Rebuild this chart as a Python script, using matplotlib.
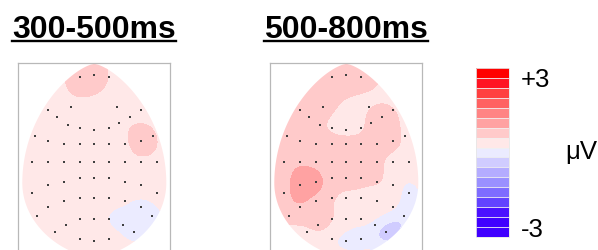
import matplotlib
matplotlib.use("Agg")
import matplotlib.pyplot as plt
import numpy as np
from matplotlib.colors import ListedColormap, BoundaryNorm
from matplotlib.cm import ScalarMappable
from matplotlib.patches import Polygon
from matplotlib.lines import Line2D

plt.rcParams['font.family'] = ['Liberation Sans', 'DejaVu Sans']

W, H = 598, 250

# electrode positions (pixels inside a map panel, origin at panel top-left)
elec_x = [61.7, 76, 90.4,
          30, 52.7, 99, 122.7,
          38.4, 111.7,
          49.7, 61.7, 76, 90.4, 100.7,
          17, 135,
          30, 45.7, 61.7, 76, 90.4, 106.4, 122.7,
          13.7, 30, 45.7, 61.7, 76, 90.4, 106.4, 122.7, 138.7,
          61.7, 76, 90.4, 45.7, 106.4, 30, 122.7,
          13.7, 138.7,
          45.7, 61.7, 76, 90.4, 106.4, 30, 122.7,
          18.7, 133.7,
          61.7, 76, 90.4, 47.7, 105,
          36.7, 115.7,
          61.7, 76, 90.4]
elec_y = [13.4, 11.7, 13.4,
          47, 43.7, 43.7, 47,
          54, 54,
          61.7, 64.7, 66.7, 64.7, 59.7,
          72.4, 72.4,
          77.4, 81, 81, 81, 81, 81, 77.4,
          99, 99, 99, 99, 99, 99, 99, 99, 99,
          115, 115, 115, 118.7, 118.7, 122, 122,
          129.4, 129.4,
          138, 134.7, 134.7, 134.7, 138, 143.4, 143.4,
          152.7, 152.7,
          156, 156, 156, 161.4, 161.4,
          168.7, 168.7,
          175.4, 177.4, 175.4]

# amplitude (uV) at each electrode
v_300_500 = [0.92, 0.92, 0.58,
             0.4, 0.5, 0.45, 0.4,
             0.4, 0.45,
             0.4, 0.4, 0.4, 0.4, 0.45,
             0.4, 0.68,
             0.4, 0.4, 0.4, 0.4, 0.4, 0.45, 0.95,
             0.4, 0.4, 0.4, 0.4, 0.4, 0.4, 0.4, 0.45, 0.4,
             0.4, 0.4, 0.4, 0.4, 0.4, 0.4, 0.4,
             0.4, 0.4,
             0.4, 0.4, 0.4, 0.35, 0.25, 0.4, 0.05,
             0.4, 0.05,
             0.4, 0.4, 0.2, 0.4, 0.05,
             0.4, 0.05,
             0.4, 0.4, 0.4]
v_500_800 = [0.9, 0.95, 0.9,
             0.8, 0.85, 0.55, 0.62,
             0.9, 0.9,
             0.75, 0.5, 0.4, 0.5, 0.8,
             0.8, 0.5,
             0.9, 0.9, 0.9, 0.85, 0.85, 0.8, 0.75,
             0.85, 0.95, 0.9, 0.85, 0.8, 0.75, 0.7, 0.45, 0.35,
             0.8, 0.75, 0.7, 1.15, 0.62, 1.2, 0.4,
             0.85, 0.1,
             0.85, 0.65, 0.5, 0.45, 0.4, 0.95, 0.25,
             0.75, -0.1,
             0.6, 0.4, 0.3, 0.7, 0.05,
             0.5, -0.35,
             0.3, 0.1, 0.05]
baselines = [0.4, 0.5]

titles = ['300-500ms', '500-800ms']
panel_left = [18.3, 270.3]
bounds = np.linspace(-3.4, 3.4, 18)
colors = ['#4000ff', '#4000ff', '#4a10ff', '#6242ff', '#7e6cff', '#9a90ff',
          '#b4acff', '#d0ccff', '#ebebff', '#ffe8e8', '#ffcaca', '#ffa2a2',
          '#ff8484', '#ff6262', '#ff4040', '#ff1423', '#ff0000']
cmap = ListedColormap(colors)
norm = BoundaryNorm(bounds, cmap.N)


def gauss_interp(vals, base, gx, gy, sigma=13.0):
    px, py = np.array(elec_x), np.array(elec_y)
    vals = np.array(vals)
    d2 = (px[:, None] - px[None, :])**2 + (py[:, None] - py[None, :])**2
    K = np.exp(-d2 / (2 * sigma**2))
    w = np.linalg.solve(K + 1e-3 * np.eye(len(px)), vals - base)
    GX, GY = np.meshgrid(gx, gy)
    d2g = (GX.ravel()[:, None] - px)**2 + (GY.ravel()[:, None] - py)**2
    return (base + np.exp(-d2g / (2 * sigma**2)) @ w).reshape(GX.shape)


def egg_outline(cx=76, top=0.5, mid=119.7, bottom=193.7, hw=72):
    ys = np.linspace(top, bottom, 200)
    t = np.where(ys < mid, (mid - ys) / (mid - top), (ys - mid) / (bottom - mid))
    p = np.where(ys < mid, 0.7, 0.6)
    half = hw * np.clip(1 - t**2, 0, None)**p
    return np.r_[np.c_[cx - half, ys], np.c_[cx + half, ys][::-1]]


fig = plt.figure(figsize=(W / 100, H / 100), dpi=100)

gx = np.arange(0, 152.5, 0.5)
gy = np.arange(0, 200, 0.5)
for left, vals, base, title in zip(panel_left, [v_300_500, v_500_800], baselines, titles):
    ax = fig.add_axes([left / W, 1 - 263.3 / H, 152 / W, 200 / H])
    Z = gauss_interp(vals, base, gx, gy)
    cs = ax.contourf(gx, gy, Z, levels=bounds, cmap=cmap, norm=norm)
    head = Polygon(egg_outline(), closed=True, transform=ax.transData)
    cs.set_clip_path(head)
    ax.scatter(elec_x, elec_y, s=3, marker='s', color='#404040', linewidths=0, zorder=3)
    ax.set_xlim(0, 152)
    ax.set_ylim(200, 0)
    ax.set_xticks([])
    ax.set_yticks([])
    for sp in ax.spines.values():
        sp.set_color('#b8b8b8')
        sp.set_linewidth(0.9)

    # bold underlined title
    cx = left + 76
    t = fig.text(cx / W, 1 - 38.3 / H, title, ha='center', va='baseline',
                 fontsize=23, fontweight='bold')
    fig.canvas.draw()
    bb = t.get_window_extent().transformed(fig.transFigure.inverted())
    fig.add_artist(Line2D([bb.x0, bb.x1], [1 - 41.2 / H] * 2, color='black',
                          lw=1.7, transform=fig.transFigure))

# colour bar
cax = fig.add_axes([476 / W, 1 - 237.3 / H, 33.3 / W, 169.6 / H])
cb = fig.colorbar(ScalarMappable(norm=norm, cmap=cmap), cax=cax,
                  drawedges=True, ticks=[-3, 3])
cb.ax.minorticks_off()
cb.dividers.set_color('#f0f0f0')
cb.dividers.set_linewidth(0.6)
cb.outline.set_edgecolor('#e6e6e6')
cb.outline.set_linewidth(0.6)
cb.ax.set_yticklabels(['-3', '+3'])
cb.ax.tick_params(which='both', length=0, pad=8.5, labelsize=18.5)
fig.text(565 / W, 1 - 152.5 / H, 'μV', ha='left', va='center', fontsize=18.5)

fig.savefig('out.png', dpi=100)
